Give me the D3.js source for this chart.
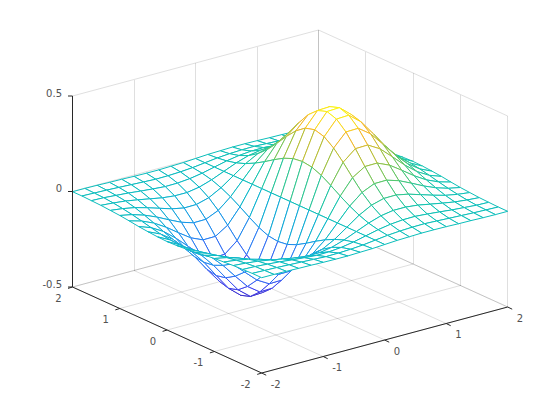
<!DOCTYPE html>
<html>
<head>
<meta charset="utf-8">
<script src="https://cdn.jsdelivr.net/npm/d3@7"></script>
<style>
body { margin: 0; background: #fff; }
text { font-family: "DejaVu Sans", sans-serif; font-size: 10px; fill: #505050; }
</style>
</head>
<body>
<svg id="chart"></svg>
<script>
// grid of the surface, values
const xs = [-2, -1.8, -1.6, -1.4, -1.2, -1, -0.8, -0.6, -0.4, -0.2, 0, 0.2, 0.4, 0.6, 0.8, 1, 1.2, 1.4, 1.6, 1.8, 2];
const ys = [-2, -1.8, -1.6, -1.4, -1.2, -1, -0.8, -0.6, -0.4, -0.2, 0, 0.2, 0.4, 0.6, 0.8, 1, 1.2, 1.4, 1.6, 1.8, 2];
const zRows = [
  [-.001,-.001,-.002,-.004,-.005,-.007,-.008,-.008,-.006,-.004,0,.004,.006,.008,.008,.007,.005,.004,.002,.001,.001],
  [-.001,-.003,-.005,-.008,-.011,-.014,-.017,-.016,-.013,-.008,0,.008,.013,.016,.017,.014,.011,.008,.005,.003,.001],
  [-.003,-.005,-.010,-.015,-.022,-.028,-.033,-.032,-.026,-.015,0,.015,.026,.032,.033,.028,.022,.015,.010,.005,.003],
  [-.005,-.010,-.017,-.028,-.040,-.052,-.059,-.059,-.048,-.027,0,.027,.048,.059,.059,.052,.040,.028,.017,.010,.005],
  [-.009,-.017,-.029,-.047,-.067,-.087,-.100,-.099,-.081,-.046,0,.046,.081,.099,.100,.087,.067,.047,.029,.017,.009],
  [-.013,-.026,-.046,-.073,-.105,-.135,-.155,-.154,-.125,-.071,0,.071,.125,.154,.155,.135,.105,.073,.046,.026,.013],
  [-.019,-.037,-.065,-.104,-.150,-.194,-.222,-.221,-.180,-.101,0,.101,.180,.221,.222,.194,.150,.104,.065,.037,.019],
  [-.026,-.049,-.086,-.138,-.198,-.257,-.294,-.292,-.238,-.134,0,.134,.238,.292,.294,.257,.198,.138,.086,.049,.026],
  [-.031,-.060,-.105,-.168,-.242,-.313,-.359,-.357,-.290,-.164,0,.164,.290,.357,.359,.313,.242,.168,.105,.060,.031],
  [-.035,-.068,-.119,-.190,-.273,-.353,-.405,-.402,-.327,-.185,0,.185,.327,.402,.405,.353,.273,.190,.119,.068,.035],
  [-.037,-.071,-.124,-.197,-.284,-.368,-.422,-.419,-.341,-.192,0,.192,.341,.419,.422,.368,.284,.197,.124,.071,.037],
  [-.035,-.068,-.119,-.190,-.273,-.353,-.405,-.402,-.327,-.185,0,.185,.327,.402,.405,.353,.273,.190,.119,.068,.035],
  [-.031,-.060,-.105,-.168,-.242,-.313,-.359,-.357,-.290,-.164,0,.164,.290,.357,.359,.313,.242,.168,.105,.060,.031],
  [-.026,-.049,-.086,-.138,-.198,-.257,-.294,-.292,-.238,-.134,0,.134,.238,.292,.294,.257,.198,.138,.086,.049,.026],
  [-.019,-.037,-.065,-.104,-.150,-.194,-.222,-.221,-.180,-.101,0,.101,.180,.221,.222,.194,.150,.104,.065,.037,.019],
  [-.013,-.026,-.046,-.073,-.105,-.135,-.155,-.154,-.125,-.071,0,.071,.125,.154,.155,.135,.105,.073,.046,.026,.013],
  [-.009,-.017,-.029,-.047,-.067,-.087,-.100,-.099,-.081,-.046,0,.046,.081,.099,.100,.087,.067,.047,.029,.017,.009],
  [-.005,-.010,-.017,-.028,-.040,-.052,-.059,-.059,-.048,-.027,0,.027,.048,.059,.059,.052,.040,.028,.017,.010,.005],
  [-.003,-.005,-.010,-.015,-.022,-.028,-.033,-.032,-.026,-.015,0,.015,.026,.032,.033,.028,.022,.015,.010,.005,.003],
  [-.001,-.003,-.005,-.008,-.011,-.014,-.017,-.016,-.013,-.008,0,.008,.013,.016,.017,.014,.011,.008,.005,.003,.001],
  [-.001,-.001,-.002,-.004,-.005,-.007,-.008,-.008,-.006,-.004,0,.004,.006,.008,.008,.007,.005,.004,.002,.001,.001]
];
const xTicks = [-2, -1, 0, 1, 2];
const yTicks = [-2, -1, 0, 1, 2];
const zTicks = [-0.5, 0, 0.5];
const parula = ["#3a2cc8", "#4044f0", "#2c78f5", "#1498e8", "#08b8c8", "#10c4b0", "#50c870", "#a8c038", "#f8b828", "#fcfc10"];

const w = 560, h = 420;
const svg = d3.select("#chart").attr("width", w).attr("height", h);

// each axis runs over 0..1 of the box edge
const xFrac = d3.scaleLinear().domain([-2, 2]).range([0, 1]);
const yFrac = d3.scaleLinear().domain([-2, 2]).range([0, 1]);
const zPix = d3.scaleLinear().domain([-0.5, 0.5]).range([0, -191]);
const color = d3.scaleLinear()
  .domain(parula.map((c, i) => -0.428 + 0.856 * i / (parula.length - 1)))
  .range(parula);

// box corners at the floor: front, end of x edge, end of y edge
const front = [261.7, 373], xEdge = [246, -66], yEdge = [-189.2, -86];

function project(x, y, z) {
  const a = xFrac(x), b = yFrac(y);
  return [front[0] + a * xEdge[0] + b * yEdge[0],
          front[1] + a * xEdge[1] + b * yEdge[1] + zPix(z)];
}

function seg(g, p, q, stroke, opacity, crisp) {
  g.append("line")
    .attr("x1", p[0]).attr("y1", p[1])
    .attr("x2", q[0]).attr("y2", q[1])
    .attr("stroke", stroke)
    .attr("stroke-opacity", opacity)
    .attr("stroke-width", 1)
    .attr("shape-rendering", crisp ? "crispEdges" : "auto");
}

// grid lines on floor and the two back walls
const grid = svg.append("g");
const gridColor = "#262626", gridOp = 0.15;
xTicks.forEach(x => {
  seg(grid, project(x, -2, -0.5), project(x, 2, -0.5), gridColor, gridOp);
  seg(grid, project(x, 2, -0.5), project(x, 2, 0.5), gridColor, gridOp, true);
});
yTicks.forEach(y => {
  seg(grid, project(-2, y, -0.5), project(2, y, -0.5), gridColor, gridOp);
  seg(grid, project(2, y, -0.5), project(2, y, 0.5), gridColor, gridOp, true);
});
zTicks.forEach(z => {
  seg(grid, project(-2, 2, z), project(2, 2, z), gridColor, gridOp);
  seg(grid, project(2, 2, z), project(2, -2, z), gridColor, gridOp);
});

// mesh cells, far ones first so white faces hide what is behind
const cells = [];
d3.range(ys.length - 1).forEach(j => {
  d3.range(xs.length - 1).forEach(i => cells.push({ i, j }));
});
cells.sort((a, b) => d3.descending(a.i * 16.5 + a.j * 21.5, b.i * 16.5 + b.j * 21.5));

const mesh = svg.append("g");
cells.forEach(({ i, j }) => {
  const corners = [[i, j], [i + 1, j], [i + 1, j + 1], [i, j + 1]];
  const pts = corners.map(([a, b]) => project(xs[a], ys[b], zRows[b][a]));
  const cell = mesh.append("g");
  cell.append("polygon")
    .attr("points", pts.map(p => p.join(",")).join(" "))
    .attr("fill", "#fff");
  corners.forEach(([a, b], k) => {
    const [c, d] = corners[(k + 1) % 4];
    seg(cell, pts[k], pts[(k + 1) % 4], color((zRows[b][a] + zRows[d][c]) / 2), 1);
  });
});

// axes, slight opacity keeps the text antialiasing grey like the reference
const axes = svg.append("g").attr("opacity", 0.99);
const black = "#262626";
seg(axes, project(-2, -2, -0.5), project(2, -2, -0.5), black, 1);
seg(axes, project(-2, -2, -0.5), project(-2, 2, -0.5), black, 1);
seg(axes, project(-2, 2, -0.5), project(-2, 2, 0.5), black, 1, true);

xTicks.forEach(x => {
  const p = project(x, -2, -0.5);
  seg(axes, p, [p[0] + 4.5, p[1] + 2.2], black, 1);
  axes.append("text").attr("x", p[0] + 9).attr("y", p[1] + 14.5).text(x);
});
yTicks.forEach(y => {
  const p = project(-2, y, -0.5);
  seg(axes, p, [p[0] - 4.5, p[1] + 1.4], black, 1);
  axes.append("text").attr("x", p[0] - 11).attr("y", p[1] + 14.5)
    .attr("text-anchor", "end").text(y);
});
zTicks.forEach(z => {
  const p = project(-2, 2, z);
  seg(axes, p, [p[0] - 4.5, p[1]], black, 1);
  axes.append("text").attr("x", p[0] - 10.5).attr("y", p[1] + 0.5)
    .attr("text-anchor", "end").text(z);
});
</script>
</body>
</html>
